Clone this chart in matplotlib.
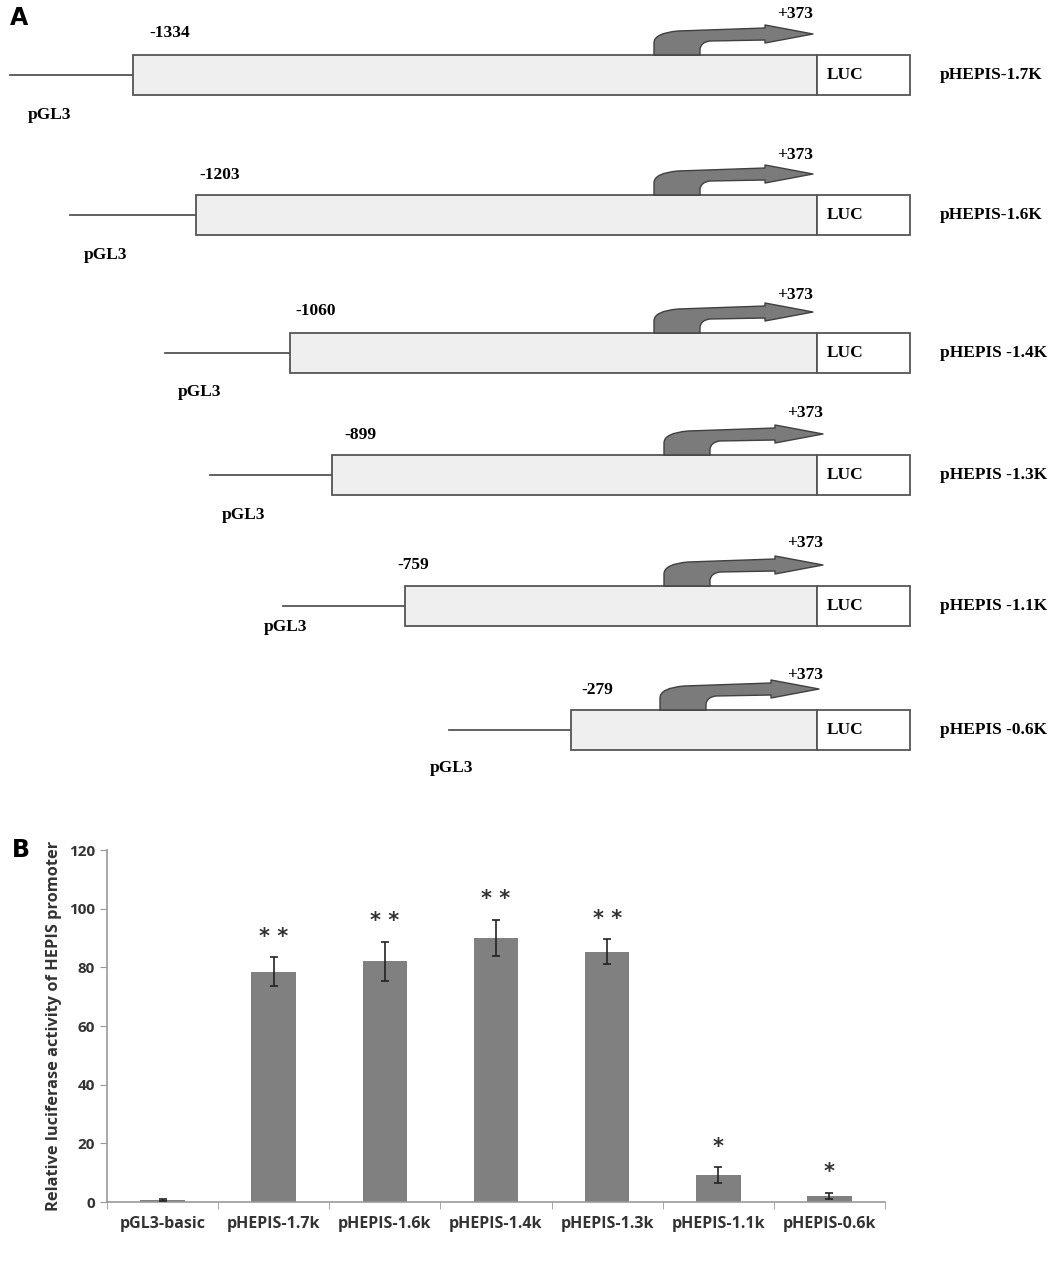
"""Promoter deletion constructs (A) and their luciferase activity (B)."""

import matplotlib
matplotlib.use("Agg")
import matplotlib.pyplot as plt
import numpy as np
from matplotlib.patches import PathPatch, Rectangle
from matplotlib.path import Path

# --- panel A: constructs ---
construct_names = ["pHEPIS-1.7K", "pHEPIS-1.6K", "pHEPIS -1.4K",
                   "pHEPIS -1.3K", "pHEPIS -1.1K", "pHEPIS -0.6K"]
start_labels = ["-1334", "-1203", "-1060", "-899", "-759", "-279"]
end_label = "+373"

# --- panel B: luciferase activity ---
categories = ["pGL3-basic", "pHEPIS-1.7k", "pHEPIS-1.6k", "pHEPIS-1.4k",
              "pHEPIS-1.3k", "pHEPIS-1.1k", "pHEPIS-0.6k"]
activity = [0.8, 78.5, 82.0, 90.0, 85.3, 9.2, 2.0]
activity_err = [0.3, 5.0, 6.8, 6.2, 4.3, 2.6, 1.1]
significance = ["", "* *", "* *", "* *", "* *", "*", "*"]

# schematic layout (pixel space of the figure)
row_y = [75, 215, 353, 475, 606, 730]
box_left = [133, 196, 290, 332, 405, 571]
vector_left = [10, 70, 165, 210, 283, 449]
arrow_left = [654, 654, 654, 664, 664, 660]
start_lab_x = [170, 220, 316, 360, 413, 597]
start_lab_dy = [-42, -40, -42, -40, -41, -40]
pgl3_xy = [(50, 115), (105, 255), (200, 392), (243, 515), (285, 627), (452, 768)]
end_lab_x = [795, 795, 795, 805, 805, 805]
end_lab_dy = [-61, -60, -58, -62, -63, -55]
LUC_X, LUC_END, BOX_H = 817, 910, 40

SERIF = "Liberation Serif"
SANS = "Open Sans"
FS_A = 12.5
BOX_FC, BOX_EC = "#efefef", "#555555"
ARROW_FC, ARROW_EC = "#7b7b7b", "#404040"


def bent_arrow(x0, top):
    """Bent transcription-start arrow sitting on the box top at x0."""
    verts = [
        (x0, top), (x0, top - 12),
        (x0, top - 22), (x0 + 24, top - 24),
        (x0 + 111, top - 27), (x0 + 111, top - 30),
        (x0 + 159, top - 21),
        (x0 + 111, top - 12), (x0 + 111, top - 15),
        (x0 + 56, top - 14),
        (x0 + 47, top - 13), (x0 + 46, top - 6),
        (x0 + 46, top), (x0, top),
    ]
    codes = [Path.MOVETO, Path.LINETO,
             Path.CURVE3, Path.CURVE3,
             Path.LINETO, Path.LINETO,
             Path.LINETO,
             Path.LINETO, Path.LINETO,
             Path.LINETO,
             Path.CURVE3, Path.CURVE3,
             Path.LINETO, Path.CLOSEPOLY]
    return PathPatch(Path(verts, codes), facecolor=ARROW_FC, edgecolor=ARROW_EC,
                     linewidth=1.0, joinstyle="round", zorder=3)


fig = plt.figure(figsize=(10.63, 12.84), dpi=100)

ax_a = fig.add_axes([0, 0, 1, 1])
ax_a.set_xlim(0, 1063)
ax_a.set_ylim(1284, 0)
ax_a.axis("off")

ax_a.text(10, 18, "A", fontsize=17, fontweight="bold", va="center", ha="left")

for i, name in enumerate(construct_names):
    yc = row_y[i]
    top = yc - BOX_H / 2
    ax_a.plot([vector_left[i], box_left[i]], [yc, yc], color="#555555", lw=1.3)
    ax_a.add_patch(Rectangle((box_left[i], top), LUC_X - box_left[i], BOX_H,
                             facecolor=BOX_FC, edgecolor=BOX_EC, lw=1.3, zorder=2))
    ax_a.add_patch(Rectangle((LUC_X, top), LUC_END - LUC_X, BOX_H,
                             facecolor="white", edgecolor=BOX_EC, lw=1.3, zorder=2))
    ax_a.add_patch(bent_arrow(arrow_left[i], top))
    ax_a.text(LUC_X + 10, yc, "LUC", family=SERIF, fontweight="bold",
              fontsize=FS_A, va="center", ha="left")
    ax_a.text(940, yc, name, family=SERIF, fontweight="bold",
              fontsize=FS_A, va="center", ha="left")
    ax_a.text(start_lab_x[i], yc + start_lab_dy[i], start_labels[i], family=SERIF,
              fontweight="bold", fontsize=FS_A, va="center", ha="center")
    ax_a.text(end_lab_x[i], yc + end_lab_dy[i], end_label, family=SERIF,
              fontweight="bold", fontsize=FS_A, va="center", ha="center")
    ax_a.text(*pgl3_xy[i], "pGL3", family=SERIF, fontweight="bold",
              fontsize=FS_A, va="center", ha="center")

# --- panel B ---
fig.text(12 / 1063, 1 - 850 / 1284, "B", fontsize=17, fontweight="bold",
         va="center", ha="left")

ax_b = fig.add_axes([107 / 1063, 82 / 1284, 778 / 1063, 352 / 1284])
x = np.arange(len(categories))
ax_b.bar(x, activity, width=0.4, color="#808080", zorder=2)
ax_b.errorbar(x, activity, yerr=activity_err, fmt="none", ecolor="#222222",
              elinewidth=1.2, capsize=3, capthick=1.2, zorder=3)
for xi, v, e, s in zip(x, activity, activity_err, significance):
    if s:
        ax_b.text(xi, v + e + 7, s, ha="center", va="center", fontsize=15,
                  fontweight="bold", color="#333333")

ax_b.set_xlim(-0.5, len(categories) - 0.5)
ax_b.set_ylim(0, 120)
ax_b.set_yticks(np.arange(0, 121, 20))
ax_b.set_xticks(x)
ax_b.set_xticklabels(categories)
ax_b.set_xticks(np.arange(-0.5, len(categories), 1), minor=True)
ax_b.tick_params(axis="x", which="major", length=0, pad=10)
ax_b.tick_params(axis="x", which="minor", length=5, color="#999999",
                 direction="out")
ax_b.tick_params(axis="y", length=5, color="#999999", direction="out")
for lab in ax_b.get_xticklabels():
    lab.set_fontsize(11.5)
for lab in ax_b.get_xticklabels() + ax_b.get_yticklabels():
    lab.set_fontweight("bold")
    lab.set_color("#333333")
    lab.set_family(SANS)
for lab in ax_b.get_yticklabels():
    lab.set_fontsize(11)
ax_b.set_ylabel("Relative luciferase activity of HEPIS promoter",
                fontsize=11.8, fontweight="bold", family=SANS,
                color="#333333", labelpad=5)
for side in ("top", "right"):
    ax_b.spines[side].set_visible(False)
for side in ("left", "bottom"):
    ax_b.spines[side].set_color("#999999")
    ax_b.spines[side].set_linewidth(1.2)

fig.savefig("out.png", dpi=100)
